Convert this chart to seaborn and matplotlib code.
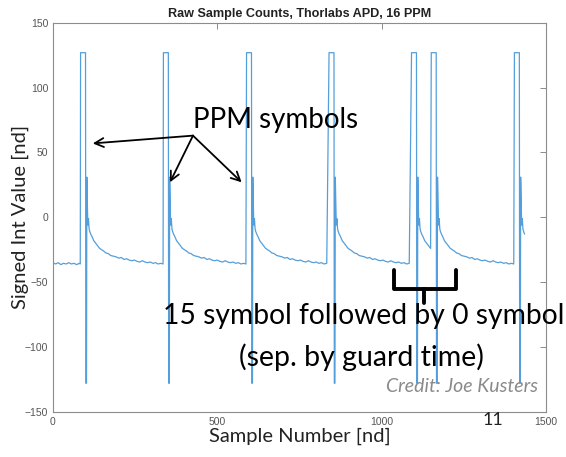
import matplotlib
matplotlib.use('Agg')
import numpy as np
import pandas as pd
import seaborn as sns
import matplotlib.pyplot as plt

# --- data ---
# sample index where each saturated PPM pulse starts
pulse_starts = [84, 336, 589, 840, 1091, 1151, 1404]
last_sample = 1437

# shape of one pulse (offset from pulse start, signed int value)
pulse_offsets = [0, 15, 16, 18, 19, 20, 21, 22, 23, 24, 25, 26, 28, 31, 35, 40, 46, 52, 58,
                 64, 70, 77, 84, 92, 100, 108, 116, 124, 132, 140, 148, 156, 164, 172, 180,
                 188, 196, 204, 212, 220, 228, 236, 244, 251]
pulse_values = [127, 127, -128, -128, 31, 18, 4, -6, -3, -1, -5, -9, -11, -13, -15, -18, -20,
                -22, -24, -25, -26, -27.5, -28, -29.5, -30, -30.5, -31.5, -31, -32.5, -32, -33,
                -33.5, -33, -34, -34.5, -33.5, -34.5, -35, -34.5, -35.5, -35, -36, -35.5, -36]

# baseline before the first pulse
lead_x = [0, 8, 16, 24, 32, 40, 48, 56, 64, 72, 80, 83]
lead_y = [-35, -36, -35, -36.5, -35.5, -36, -35, -36, -35.5, -36.5, -35.5, -36]

# --- build the trace ---
xs, ys = list(lead_x), list(lead_y)
for i, s in enumerate(pulse_starts):
    nxt = pulse_starts[i + 1] if i + 1 < len(pulse_starts) else last_sample + 1
    for off, val in zip(pulse_offsets, pulse_values):
        if s + off < nxt:
            xs.append(s + off)
            ys.append(val)
df = pd.DataFrame({'sample': xs, 'value': ys})

sns.set_style('white')
plt.rcParams['font.family'] = ['Liberation Sans', 'DejaVu Sans']

fig = plt.figure(figsize=(5.66, 4.57), dpi=100)
ax = fig.add_axes([0.0936, 0.099, 0.871, 0.851])

sns.lineplot(data=df, x='sample', y='value', sort=False, estimator=None,
             color='#549fdb', linewidth=0.9, ax=ax)

ax.set_xlim(0, 1500)
ax.set_ylim(-150, 150)
ax.set_xticks([0, 500, 1000, 1500])
ax.set_yticks([-150, -100, -50, 0, 50, 100, 150])
for sp in ax.spines.values():
    sp.set_visible(True)
    sp.set_color('#8c8c8c')
    sp.set_linewidth(0.8)
ax.tick_params(direction='in', length=4, width=0.7, color='#8c8c8c',
               labelsize=7.5, labelcolor='#555555', top=True, right=True,
               labeltop=False, labelright=False)

ax.set_title('Raw Sample Counts, Thorlabs APD, 16 PPM', fontsize=9.1,
             fontweight='bold', color='#222222', pad=4)
ax.set_xlabel('Sample Number [nd]', family='Lato', fontsize=14.5, color='#222222', labelpad=1)
ax.set_ylabel('Signed Int Value [nd]', family='Lato', fontsize=14.5, color='#222222', labelpad=-3)

# slide annotations
ax.text(427, 75, 'PPM symbols', family='Lato', fontsize=20, ha='left', va='center',
        color='black')
src = (426, 63)
for tgt in [(121, 57), (356, 27), (574, 27)]:
    ax.annotate('', xy=tgt, xytext=src,
                arrowprops=dict(arrowstyle='->', color='black', lw=1.3,
                                mutation_scale=16, shrinkA=0, shrinkB=0))

# brace under the 15 -> 0 symbol pair
bx = [1037, 1037, 1226, 1226]
by = [-41, -55, -55, -41]
ax.plot(bx, by, color='black', lw=2.8, solid_joinstyle='round', solid_capstyle='round')
ax.plot([1129, 1129], [-55, -66], color='black', lw=2.8, solid_capstyle='round')

ax.text(335, -66, '15 symbol followed by 0 symbol', family='Lato',
        fontsize=20.3, ha='left', va='top', color='black', clip_on=False)
ax.text(940, -97, '(sep. by guard time)', family='Lato', fontsize=20.5, ha='center',
        va='top', color='black', clip_on=False)
ax.text(1475, -137, 'Credit: Joe Kusters', family='Lato', style='italic', fontsize=14,
        ha='right', va='bottom', color='#8a8a8a')
ax.text(1340, -150, '11', family='Lato', fontsize=13, ha='center', va='top',
        color='#222222', clip_on=False)

fig.savefig('out.png', dpi=100)
